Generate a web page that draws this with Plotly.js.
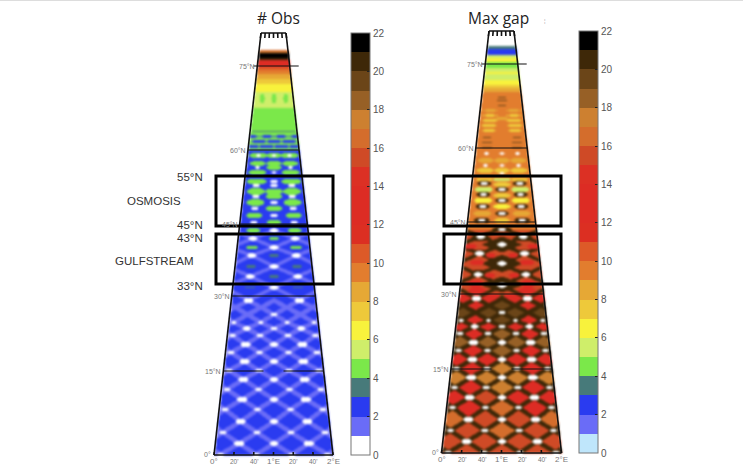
<!DOCTYPE html>
<html><head><meta charset="utf-8">
<script src="https://cdn.plot.ly/plotly-3.0.1.min.js"></script>
<style>html,body{margin:0;padding:0;background:#fff}#g{width:743px;height:472px}
.heatmaplayer image{filter:blur(.8px)}</style></head><body><div id="g"></div>
<script>
// colour classes 0..21 (one per unit of the 0-22 scale)
const classColors=['#ffffff','#6a6cf7','#2a3bf0','#477a7a','#7be84a','#cfee6a','#f8f23c','#eec93a','#e6a835','#e27d2e','#dd5a28','#dc2f22','#dd2c24','#dd2c24','#dc3024','#cf4a26','#d46d2c','#cd8030','#976026','#6b4518','#3e2808','#000000'];
const gapFirstColor='#bfe6fb';
const tickVals=[0,2,4,6,8,10,12,14,16,18,20,22];
// latitude bands: top of band on the page, value
const obsBandTop=[33,50,52,53,58,60,67,70,74,79,84,92,108,150];
const obsBandVal=[null,16.5,17.5,21.5,20.5,12.5,10.5,9.5,8.5,7.5,6.5,5.5,4.5,2.5];
const gapBandTop=[31,46,49,55,58,62,68,72,74,80,85,88,92,110,230];
const gapBandVal=[null,3.5,2.5,5.5,6.5,4.5,5.5,6.5,5.5,6.5,7.5,8.5,9.5,9.5,15.5];
// ground-track crossing rows
const latticeRows=[454,443,432,421,409,399,389,379,370,361,352,344,335,328,322,314,307,300];
const lonsA=[-0.2,0.4,1,1.6,2.2];
const lonsB=[0.1,0.7,1.3,1.9];
const upperRows=[300,287,276,266,255,247,238,230];
const upperSide=[0.4,1.6];
const upperMid=[-0.2,1,2.2];
// Max gap diamonds between the tracks (rows alternate 4 and 3 cells)
const gapTileRows=[442,430,419,408,397,389,378,367,360,352,342,333,327,320,312,305,298];
const gapTileVals=[[15.5,15.5,15.5,15.5],[15.5,16.5,15.5],[16.5,15.5,15.5,16.5],[13.5,16.5,13.5],[13.5,15.5,13.5,13.5],[12.5,17.5,12.5],[17.5,17.5,17.5,17.5],[12.5,17.5,12.5],[12.5,13.5,12.5,12.5],[12.5,18.5,12.5],[18.5,18.5,18.5,18.5],[12.5,18.5,12.5],[12.5,12.5,12.5,12.5],[12.5,19.5,12.5],[19.5,19.5,19.5,19.5],[12.5,19.5,12.5],[12.5,12.5,12.5,12.5]];
// patches [row, lon, value, half width, half height]
const obsPatches=[
[98,0.4,4.5,2.5,5],[98,1,4.5,2.5,5],[98,1.6,4.5,2.5,5],
[131,0.4,3.5,8,.8],[131,1,3.5,8,.8],[131,1.6,3.5,8,.8],
[136,0.1,2.5,7,1.2],[136,0.7,2.5,7,1.2],[136,1.3,2.5,7,1.2],[136,1.9,2.5,7,1.2],
[141,0.4,2.5,8,1.5],[141,1,2.5,8,1.5],[141,1.6,2.5,8,1.5],
[146,0.1,2.5,8,1.8],[146,0.7,2.5,8,1.8],[146,1.3,2.5,8,1.8],[146,1.9,2.5,8,1.8],
[155,0.4,4.5,9,3],[155,1,4.5,8,2.5],[155,1.6,4.5,9,3],
[163,0.4,4.5,8,2.5],[163,1,4.5,8,2.5],[163,1.6,4.5,8,2.5],
[172,0.4,4.5,9,3],[172,1.6,4.5,9,3],[167,1,4.5,8,2.5],
[181,0.4,4.5,10,3],[181,1.6,4.5,10,3],[191,0.4,4.5,9,3.5],[191,1,4.5,9,3],[191,1.6,4.5,9,3.5],
[196,1,4.5,8,3],[202,0.4,4.5,9,3.5],[202,1.6,4.5,9,3.5],[208,1,4.5,8,3],
[215,0.4,4.5,8,3],[215,1.6,4.5,8,3],[222,1,4.5,7,3],[230,0.4,4.5,7,2.5],[230,1.6,4.5,7,2.5],
[238,1,4.5,5,2],[247,0.4,4.5,6,2],[247,1.6,4.5,6,2],[266,0.4,3.5,5,1.5],[266,1.6,3.5,5,1.5],[255,1,3.5,5,1.5],[276,1,3.5,5,1.5],[287,0.4,3.5,5,1],[287,1.6,3.5,5,1]];
const gapPatches=[
[97,1,19.5,4,.8],[100,1,19.5,5,.8],[105,1,19.5,4,.8],
[110,0.45,8.5,8,1.2],[110,1.55,8.5,8,1.2],[115,0.45,7.5,8,1.2],[115,1.55,7.5,8,1.2],[120,0.45,7.5,8,1.5],[120,1.55,7.5,8,1.5],[125,0.45,7.5,8,1.5],[125,1.55,7.5,8,1.5],[130,0.45,7.5,7,1.5],[130,1.55,7.5,7,1.5],
[118,1,8.5,7,1.5],[137,0.4,19.5,4,.8],[137,1.6,19.5,4,.8],[142,0.4,19.5,5,.8],[142,1.6,19.5,5,.8],[147,0.4,19.5,5,.8],[147,1.6,19.5,5,.8],
[160,0.4,8.5,8,2.5],[160,1,8.5,8,2.5],[160,1.6,8.5,8,2.5],[170,0.4,7.5,9,2.5],[170,1,7.5,8,2.5],[170,1.6,7.5,9,2.5],
[179,0.4,7.5,9,2],[179,1,5.5,9,2],[179,1.6,7.5,9,2],
[189,0.4,5.5,9,3],[189,1.6,5.5,9,3],[184,1,7.5,9,2.5],[200,0.4,6.5,9,3],[200,1.6,6.5,9,3],[195,1,7.5,9,2.5],[213,0.4,8.5,9,3],[213,1.6,8.5,9,3],[206,1,6.5,9,2.5],[220,1,7.5,8,2.5],
[183,0.4,20.5,7,2.5],[183,1.6,20.5,7,2.5],[194,0.4,20.5,7,2.5],[194,1.6,20.5,7,2.5],[206,0.4,20.5,7,2.5],[206,1.6,20.5,7,2.5],[220,0.4,20.5,8,3],[220,1.6,20.5,8,3],
[189,1,20.5,7,2.5],[200,1,20.5,7,2.5],[213,1,20.5,7,2.5],[229,1,20.5,10,3],
[238,0.4,20.5,10,3],[238,1.6,20.5,10,3],
[244,1,20.5,20,8],[263,1,20.5,21,9],[284,1,20.5,22,8],
[252,0.4,20.5,6,3],[252,1.6,20.5,6,3],[273,0.4,20.5,7,4],[273,1.6,20.5,7,4],
[246,0.15,12.5,6,3],[246,1.85,12.5,6,3],[262,0.35,12.5,7,3],[262,1.65,12.5,7,3],[255,0.7,12.5,5,2.5],[255,1.3,12.5,5,2.5],[283,0.35,12.5,8,3.5],[283,1.65,12.5,8,3.5],[275,0.7,12.5,5,2.5],[275,1.3,12.5,5,2.5],[290,0.4,12.5,9,3.5],[290,1.6,12.5,9,3.5]];
// white spots where tracks cross: upper part of the maps
const obsSpots=[[155,0.4],[155,1],[155,1.6],[167,0.4],[167,1.6],[172,1],[181,1],[185,0.4],[185,1],[185,1.6],[196,0.4],[196,1.6],[202,1],[208,0.4],[208,1.6],[215,1],[222,0.4],[222,1.6],[230,1],[238,0.4],[238,1.6],[247,1],[255,0.4],[255,1.6],[266,1],[276,0.4],[276,1.6],[287,1]];
const gapSpots=[[153,0.4],[153,1],[153,1.6],[165,0.4],[165,1],[165,1.6],[173,1],[183,0.4],[183,1.6],[189,1],[194,0.4],[194,1.6],[200,1],[206,0.4],[206,1.6],[213,1],[220,0.4],[220,1.6],[229,1],[236,0.4],[236,1.6],[244,1],[253,0.4],[253,1.6],[263,1],[274,0.4],[274,1.6],[285,1]];
// graticule rows and text
const latLineRows=[66,150,224,296,371];
const latNames=['75°N','60°N','45°N','30°N','15°N'];
const lonTickVals=[0,1/3,2/3,1,4/3,5/3,2];
const lonTickText=['0°','20\'','40\'','1°E','20\'','40\'','2°E'];
const boxTops=[176,234], boxBottoms=[226,284];
const sideLabels=[['55°N',189.5,177],['OSMOSIS',154,201],['45°N',189.5,224.5],['43°N',189.5,237.5],['GULFSTREAM',154,261],['33°N',189.5,286]];

const colLeft={cx:273.5,yB:455,yT:33,hB:59.5,hT:12.5,dy:0};
const colRight={cx:501.5,yB:453,yT:31,hB:60,hT:12.5,dy:-2};
function hw(g,y){return g.hB-(g.yB-y)*(g.hB-g.hT)/(g.yB-g.yT);}
function px(g,lon,y){return g.cx+(lon-1)*hw(g,y);}

function segments(g){
  const out=[];
  const link=(r1,l1,r2,l2,step)=>{for(const a of l1)for(const b of l2)if(Math.abs(Math.abs(a-b)-step)<.01)
    out.push([px(g,a,r1+g.dy),r1+g.dy,px(g,b,r2+g.dy),r2+g.dy]);};
  latticeRows.forEach((r,i)=>{if(i<latticeRows.length-1){const evenA=i%2;link(r,evenA?lonsA:lonsB,latticeRows[i+1],evenA?lonsB:lonsA,.3);}});
  upperRows.forEach((r,i)=>{if(i<upperRows.length-1){const side=i%2==0;link(r,side?upperSide:upperMid,upperRows[i+1],side?upperMid:upperSide,.6);}});
  return out;
}
function raster(g,bt,bv,tiles,tileVals,stripeVal,stripeHalf,patches,spots){
  const xs=[],ys=[],z=[];
  const x0=Math.floor(g.cx-g.hB)-1,x1=Math.ceil(g.cx+g.hB)+1;
  for(let x=x0;x<=x1;x++)xs.push(x);
  for(let y=g.yT;y<=g.yB;y++)ys.push(y);
  const tileList=[];
  if(tiles)tiles.forEach((r,i)=>{const vals=tileVals[i],lons=vals.length==4?lonsB:[.4,1,1.6];
    vals.forEach((v,k)=>tileList.push([px(g,lons[k],r),r,v]));});
  const tileTop=tiles?Math.min(...tiles)-4:1e9;
  const segs=segments(g);
  ys.forEach(y=>{
    const row=[],h=hw(g,y);
    let bandV=null;for(let i=0;i<bt.length;i++)if(y>=bt[i])bandV=bv[i];
    xs.forEach(x=>{
      if(Math.abs(x-g.cx)>h){row.push(null);return;}
      let v=bandV;
      if(y>=tileTop){let best=1e9;for(const t of tileList){const d=Math.abs(x-t[0])/(.3*h)+Math.abs(y-t[1])/10;if(d<best){best=d;v=t[2];}}}
      row.push(v);
    });
    z.push(row);
  });
  // light / dark tracks
  segs.forEach(s=>{
    const [ax,ay,bx,by]=s,dx=bx-ax,dy=by-ay,len2=dx*dx+dy*dy;
    const half=(Math.max(ay,by)<=300+g.dy)?stripeHalf*.8:stripeHalf;
    for(let j=0;j<ys.length;j++){const y=ys[j];if(y<Math.min(ay,by)-3||y>Math.max(ay,by)+3)continue;
      for(let i=0;i<xs.length;i++){if(Math.abs(xs[i]-g.cx)>hw(g,y))continue;
        let t=((xs[i]-ax)*dx+(y-ay)*dy)/len2;t=Math.max(0,Math.min(1,t));
        const d=Math.hypot(xs[i]-ax-t*dx,y-ay-t*dy);if(d<=half)z[j][i]=stripeVal;}}
  });
  const blob=(r,lon,v,a,b,round)=>{
    const cx=px(g,lon,r);
    for(let j=0;j<ys.length;j++){const dy=(ys[j]-r)/b;if(Math.abs(dy)>1)continue;
      for(let i=0;i<xs.length;i++){if(Math.abs(xs[i]-g.cx)>hw(g,ys[j]))continue;const dx=(xs[i]-cx)/a;
        const inside=round?dx*dx+dy*dy<=1:Math.abs(dx)+Math.abs(dy)<=1;if(inside)z[j][i]=v;}}
  };
  patches.forEach(p=>blob(p[0],p[1],p[2],p[3],p[4],p[3]<15));
  latticeRows.forEach((r,i)=>{if(r<=300||r==307)return;const a=i%2==1;(a?lonsA:lonsB).forEach(l=>{if(l<0||l>2)return;
    if(r==314&&l!=1)return;
    const k=r<=330?.8:1,c=(a&&l==1)?.85:1;
    blob(r+g.dy,l,null,(a?5:3.3)*k*c,(a?2.8:1.9)*k*c,true);});});
  upperSide.forEach(l=>blob(300+g.dy,l,null,4.8,2.7,true));
  spots.forEach(s=>{const t=s[0]<175?0:s[0]<230?1:2;blob(s[0],s[1],null,[2.5,3.6,4.5][t],[1.2,1.7,2.3][t],true);});
  return {xs,ys,z};
}
function scale(first){const s=[];classColors.forEach((c,i)=>{const col=i==0?first:c;s.push([i/22,col],[(i+1)/22,col]);});return s;}
function heat(r,g,first,xa,ya,cbx){
  return {type:'heatmap',x:r.xs,y:r.ys,z:r.z,zmin:0,zmax:22,colorscale:scale(first),xaxis:xa,yaxis:ya,hoverongaps:false,
    hoverinfo:'z',colorbar:{x:cbx/743,xanchor:'left',xpad:0,ypad:0,y:1-g.yT/472,yanchor:'top',lenmode:'pixels',len:422,thickness:19,thicknessmode:'pixels',
      tickmode:'array',tickvals:tickVals,ticks:'inside',ticklen:3,tickcolor:'#222',tickwidth:1,outlinecolor:'#777',outlinewidth:1,
      tickfont:{family:'Liberation Sans',size:10,color:'#555'}}};
}
function frame(g,xa,ya){
  const ex=[],ey=[];
  const add=(a,b,c,d)=>{ex.push(a,c,null);ey.push(b,d,null);};
  add(px(g,0,g.yB),g.yB,px(g,0,g.yT),g.yT);add(px(g,2,g.yB),g.yB,px(g,2,g.yT),g.yT);
  add(px(g,0,g.yB),g.yB,px(g,2,g.yB),g.yB);add(px(g,0,g.yT),g.yT,px(g,2,g.yT),g.yT);
  lonTickVals.forEach(l=>{add(px(g,l,g.yT),g.yT,px(g,l,g.yT+5),g.yT+5);add(px(g,l,g.yB),g.yB,px(g,l,g.yB-3),g.yB-3);});
  const lx=[],ly=[];
  latLineRows.forEach((r,i)=>{const y=r+g.dy;
    const l=px(g,0,y),rr=px(g,2,y);
    if(i==0){lx.push(l-4,rr+9,null);ly.push(y,y,null);}
    else if(i==4){lx.push(l,g.cx-10,null,g.cx+10,rr,null);ly.push(y,y,null,y,y,null);}
    else{lx.push(l,rr,null);ly.push(y,y,null);}
  });
  return [{type:'scatter',mode:'lines',x:ex,y:ey,xaxis:xa,yaxis:ya,line:{color:'#111',width:1.6},hoverinfo:'skip',showlegend:false},
          {type:'scatter',mode:'lines',x:lx,y:ly,xaxis:xa,yaxis:ya,line:{color:'#111',width:1.2},hoverinfo:'skip',showlegend:false}];
}
const rL=raster(colLeft,obsBandTop,obsBandVal,null,null,1.5,2.3,obsPatches,obsSpots);
const rR=raster(colRight,gapBandTop,gapBandVal,gapTileRows,gapTileVals,20.5,2.2,gapPatches,gapSpots);
const data=[heat(rL,colLeft,'#ffffff','x','y',351),heat(rR,colRight,gapFirstColor,'x2','y2',579),...frame(colLeft,'x','y'),...frame(colRight,'x2','y2')];

const ann=[],shapes=[];
const note=(xr,yr,x,y,t,size,col,anchor)=>ann.push({xref:xr,yref:yr,x,y,text:t,showarrow:false,xanchor:anchor||'center',yanchor:'middle',borderpad:0,
  font:{family:'Liberation Sans',size,color:col}});
[[colLeft,'x','y'],[colRight,'x2','y2']].forEach(([g,xr,yr])=>{
  latLineRows.forEach((r,i)=>note(xr,yr,px(g,0,r+g.dy)-1,r+g.dy,latNames[i],7,'#777','right'));
  note(xr,yr,px(g,0,g.yB)-2,g.yB-1,'0°',7,'#777','right');
  lonTickVals.forEach((l,i)=>note(xr,yr,px(g,l,g.yB),g.yB+6,lonTickText[i],(i%3==0)?8:6.5,'#777'));
  boxTops.forEach((t,i)=>shapes.push({type:'rect',xref:xr,yref:yr,x0:g.cx-57.5,x1:g.cx+59.5,y0:t,y1:boxBottoms[i],line:{color:'#000',width:3}}));
});
sideLabels.forEach(s=>note('x','y',s[1],s[2],s[0],11.5,'#333'));
ann.push({xref:'x',yref:'y',x:278.5,y:17.5,text:'# Obs',showarrow:false,font:{family:'Open Sans',size:15.5,color:'#222'}});
ann.push({xref:'x2',yref:'y2',x:498.5,y:17.5,text:'Max gap',showarrow:false,font:{family:'Open Sans',size:15.5,color:'#222'}});
note('x2','y2',545,21,'¦',6,'#aaa');
shapes.push({type:'line',xref:'paper',yref:'paper',x0:0,x1:1,y0:1,y1:1,line:{color:'#ddd',width:2}});

const ax=(r,d)=>({range:r,domain:d,visible:false,fixedrange:true});
const layout={width:743,height:472,margin:{l:0,r:0,t:0,b:0},paper_bgcolor:'#fff',plot_bgcolor:'rgba(0,0,0,0)',showlegend:false,
  xaxis:ax([0,371.5],[0,.5]),xaxis2:ax([371.5,743],[.5,1]),yaxis:{...ax([472,0],[0,1]),anchor:'x'},yaxis2:{...ax([472,0],[0,1]),anchor:'x2'},
  annotations:ann,shapes};
layout.xaxis.anchor='y';layout.xaxis2.anchor='y2';
Plotly.newPlot('g',data,layout,{displayModeBar:false,staticPlot:true});
</script></body></html>
